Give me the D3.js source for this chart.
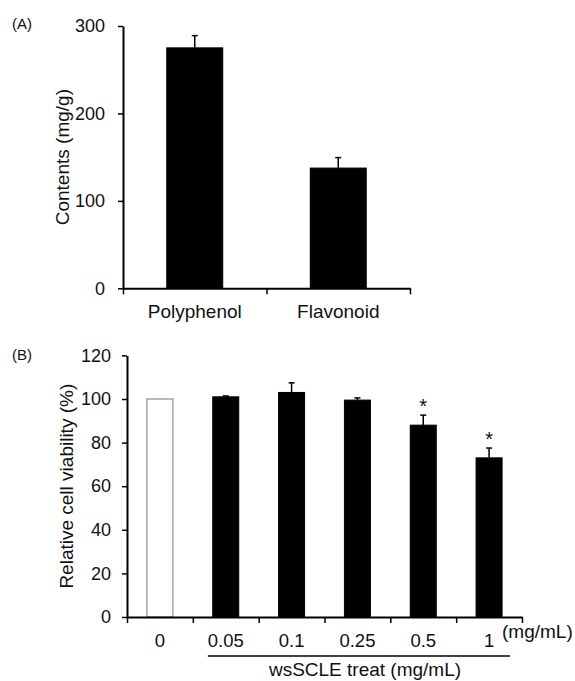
<!DOCTYPE html>
<html>
<head>
<meta charset="utf-8">
<script src="https://cdn.jsdelivr.net/npm/d3@7"></script>
<style>
  body { margin: 0; background: #fff; }
  svg text { font-family: "Liberation Sans", Arial, sans-serif; fill: #111; }
  .axis path, .axis line { stroke: #000; }
</style>
</head>
<body>
<svg id="chart" width="575" height="681"></svg>
<script>
"use strict";

// panel A - contents
const catsA = ["Polyphenol", "Flavonoid"];
const valsA = [275, 137.5];
const errA = [14, 12];
const ticksA = [0, 100, 200, 300];

// panel B - cell viability
const catsB = ["0", "0.05", "0.1", "0.25", "0.5", "1"];
const valsB = [100, 101, 103, 99.5, 88, 73];
const errB = [0, 0.4, 4.4, 1, 4.6, 4.5];
const sigB = [false, false, false, false, true, true];
const fillB = ["#fff", "#000", "#000", "#000", "#000", "#000"];
const ticksB = [0, 20, 40, 60, 80, 100, 120];

const svg = d3.select("#chart");

function drawPanel(opt) {
    const g = svg.append("g");
    const n = opt.cats.length;

    const x = d3.scaleBand()
        .domain(opt.cats)
        .range(opt.xRange)
        .paddingInner(opt.pad)
        .paddingOuter(opt.pad / 2);
    const y = d3.scaleLinear().domain(opt.yDomain).range(opt.yRange);
    // boundaries between categories, for the x tick marks
    const xb = d3.scaleLinear().domain([0, n]).range(opt.xRange);

    // bars
    g.selectAll("rect.bar")
        .data(opt.cats)
        .join("rect")
        .attr("class", "bar")
        .attr("x", d => x(d))
        .attr("width", x.bandwidth())
        .attr("y", (d, i) => y(opt.vals[i]))
        .attr("height", (d, i) => y(0) - y(opt.vals[i]))
        .attr("fill", (d, i) => opt.fills ? opt.fills[i] : "#000")
        .attr("stroke", (d, i) => opt.fills && opt.fills[i] == "#fff" ? "#777" : "#000")
        .attr("stroke-width", 1);

    // error bars (upper half only)
    opt.cats.forEach((d, i) => {
        if (!opt.errs[i]) return;
        const cx = x(d) + x.bandwidth() / 2;
        const top = y(opt.vals[i] + opt.errs[i]);
        g.append("line")
            .attr("x1", cx).attr("x2", cx)
            .attr("y1", y(opt.vals[i])).attr("y2", top)
            .attr("stroke", "#000").attr("stroke-width", 1.5);
        g.append("line")
            .attr("x1", cx - 3).attr("x2", cx + 3)
            .attr("y1", top).attr("y2", top)
            .attr("stroke", "#000").attr("stroke-width", 1.5);
        if (opt.sig && opt.sig[i]) {
            g.append("text")
                .attr("x", cx)
                .attr("y", top - 2)
                .attr("text-anchor", "middle")
                .attr("font-size", 20)
                .text("*");
        }
    });

    // y axis
    g.append("g")
        .attr("class", "axis")
        .attr("transform", `translate(${opt.xRange[0]},0)`)
        .call(d3.axisLeft(y)
            .tickValues(opt.ticks)
            .tickSize(5)
            .tickSizeOuter(0)
            .tickPadding(opt.yPad))
        .call(a => a.select("path").attr("stroke-width", 2))
        .call(a => a.selectAll("line").attr("stroke-width", 1.5))
        .call(a => a.selectAll("text").attr("font-size", 18).attr("font-family", null));

    // x axis line + boundary ticks
    g.append("g")
        .attr("class", "axis")
        .attr("transform", `translate(0,${y(0)})`)
        .call(d3.axisBottom(xb)
            .tickValues(d3.range(n + 1))
            .tickFormat("")
            .tickSize(6)
            .tickSizeOuter(0))
        .call(a => a.select("path").attr("stroke-width", 2))
        .call(a => a.selectAll("line").attr("stroke-width", 1.5));

    // category labels
    g.append("g")
        .attr("transform", `translate(0,${y(0)})`)
        .call(d3.axisBottom(x).tickSize(0).tickPadding(opt.xPad))
        .call(a => a.select("path").remove())
        .call(a => a.selectAll("text").attr("font-size", opt.xFont).attr("font-family", null));

    // y title
    const midY = (opt.yRange[0] + opt.yRange[1]) / 2;
    g.append("text")
        .attr("transform", `translate(${opt.titleX},${midY}) rotate(-90)`)
        .attr("text-anchor", "middle")
        .attr("dy", "0.35em")
        .attr("font-size", 19)
        .text(opt.yTitle);

    // panel letter
    g.append("text")
        .attr("x", 12)
        .attr("y", opt.letterY)
        .attr("font-size", 15)
        .attr("dy", "0.35em")
        .text(opt.letter);

    return { x, y, xb };
}

drawPanel({
    cats: catsA, vals: valsA, errs: errA, ticks: ticksA,
    xRange: [123, 410], yDomain: [0, 300], yRange: [288.3, 26],
    pad: 0.61, yPad: 13, xPad: 16, xFont: 19,
    titleX: 62, yTitle: "Contents (mg/g)", letter: "(A)", letterY: 24
});

const pB = drawPanel({
    cats: catsB, vals: valsB, errs: errB, ticks: ticksB, fills: fillB, sig: sigB,
    xRange: [127, 522], yDomain: [0, 120], yRange: [617, 355.4],
    pad: 0.605, yPad: 11, xPad: 17, xFont: 18.5,
    titleX: 66, yTitle: "Relative cell viability (%)", letter: "(B)", letterY: 355
});

// unit label at the end of the x axis
svg.append("text")
    .attr("x", pB.xb(catsB.length) - 20)
    .attr("y", 638)
    .attr("font-size", 19)
    .text("(mg/mL)");

// bracket under the treated groups
svg.append("line")
    .attr("x1", pB.xb(1) + 15).attr("x2", pB.xb(catsB.length) - 12)
    .attr("y1", 656).attr("y2", 656)
    .attr("stroke", "#000").attr("stroke-width", 1.5);

svg.append("text")
    .attr("x", 365)
    .attr("y", 676)
    .attr("text-anchor", "middle")
    .attr("font-size", 19)
    .text("wsSCLE treat (mg/mL)");
</script>
</body>
</html>
